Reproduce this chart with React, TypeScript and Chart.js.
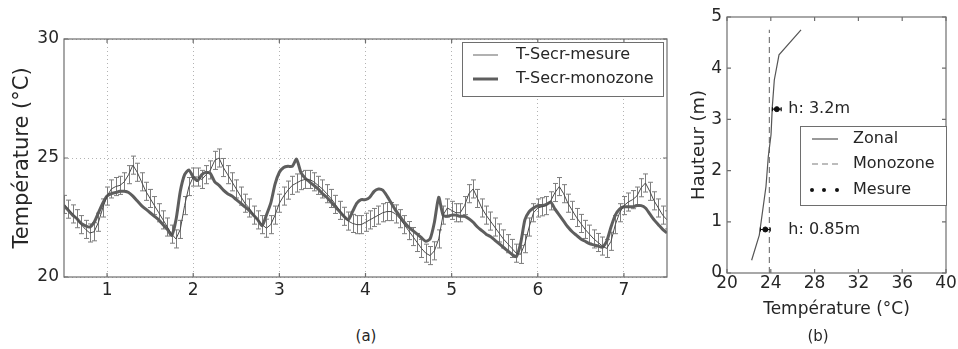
import React, { useEffect, useRef } from "react";
import { Chart, registerables } from "chart.js";
Chart.register(...registerables);

// ---------- Panel (a) data ----------
const T_START = 0.5;
const T_STEP = 0.05;
const MESURE = [
  23.05, 22.85, 22.65, 22.45, 22.2, 22.0, 21.85, 21.9, 22.3, 22.9,
  23.4, 23.7, 23.8, 23.85, 24.0, 24.3, 24.7, 24.4, 24.0, 23.6,
  23.3, 23.0, 22.7, 22.4, 22.1, 21.8, 21.6, 22.0, 23.0, 23.8,
  24.2, 24.2, 24.1, 24.3, 24.5, 24.9, 25.0, 24.6, 24.3, 24.0,
  23.7, 23.4, 23.1, 22.9, 22.6, 22.4, 22.2, 22.05, 22.2, 22.6,
  23.1, 23.4, 23.65, 23.85, 23.95, 24.05, 24.1, 24.1, 24.0, 23.85,
  23.7, 23.5, 23.3, 23.05, 22.8, 22.55, 22.35, 22.25, 22.2, 22.2,
  22.3, 22.4, 22.5, 22.6, 22.7, 22.75, 22.75, 22.65, 22.45, 22.2,
  21.95, 21.7, 21.45, 21.2, 21.0, 20.9, 21.1, 21.6, 22.6, 22.9,
  22.8, 22.7, 22.7, 23.0, 23.5, 23.7, 23.3, 22.9, 22.6, 22.35,
  22.1, 21.85, 21.6, 21.4, 21.2, 21.0, 20.95, 21.4, 22.1, 22.7,
  22.9, 22.95, 23.0, 23.2, 23.55, 23.8, 23.5, 23.1, 22.8, 22.5,
  22.25, 22.0, 21.8, 21.6, 21.45, 21.3, 21.2, 21.5, 22.2, 22.7,
  23.0, 23.15, 23.25, 23.4, 23.75, 23.95, 23.6, 23.2, 22.9, 22.6,
  22.4,
];
const MONOZONE = [
  23.0, 22.8, 22.6, 22.45, 22.25, 22.15, 22.1, 22.3, 22.7, 23.1,
  23.4, 23.5, 23.55, 23.6, 23.6, 23.55, 23.4, 23.2, 23.0, 22.85,
  22.7, 22.55, 22.4, 22.2, 22.0, 21.75, 22.4, 23.6, 24.3, 24.5,
  24.2, 24.05, 24.3, 24.4, 24.35, 24.0, 23.85, 23.65, 23.5, 23.4,
  23.25, 23.1, 22.95, 22.8, 22.6, 22.4, 22.15, 22.6, 23.1, 23.9,
  24.4, 24.6, 24.65, 24.65, 24.95, 24.4, 24.15, 24.0, 23.85, 23.7,
  23.5, 23.35, 23.15, 22.95, 22.75, 22.55, 22.4, 22.75, 23.1, 23.25,
  23.25, 23.35, 23.6, 23.7, 23.65, 23.4, 23.1, 22.8, 22.55, 22.3,
  22.1, 21.95, 21.8, 21.65, 21.5, 21.6, 22.3, 23.35, 22.6, 22.55,
  22.6, 22.6, 22.55, 22.55, 22.45, 22.3, 22.1, 21.95, 21.8, 21.7,
  21.55, 21.4, 21.25, 21.1, 20.95, 20.85, 21.4, 22.4, 22.75, 22.9,
  23.0, 23.0, 23.05, 23.15, 22.85, 22.6, 22.35, 22.1, 21.9, 21.75,
  21.6, 21.5, 21.4, 21.35, 21.3, 21.25, 21.5, 22.1, 22.6, 22.85,
  22.95, 22.95, 22.95, 23.0, 23.0, 22.9, 22.65, 22.4, 22.2, 22.0,
  21.85,
];
const MESURE_ERR = 0.38;
const X_MIN_A = 0.5;
const X_MAX_A = 7.5;
const X_TICKS_A = [1, 2, 3, 4, 5, 6, 7];
const Y_TICKS_A = [20, 25, 30];
const LEGEND_A = ["T-Secr-mesure", "T-Secr-monozone"];

// ---------- Panel (b) data ----------
const ZONAL_T = [22.25, 22.95, 23.56, 23.77, 24.02, 24.14, 24.32, 24.75, 26.76];
const ZONAL_H = [0.25, 0.74, 1.69, 2.27, 2.7, 3.25, 3.77, 4.26, 4.75];
const MONO_T = [23.87, 23.87];
const MONO_H = [0, 4.75];
const MES_T = [24.55, 23.5];
const MES_H = [3.2, 0.85];
const MES_ERR = [0.4, 0.45];
const MES_LABELS = ["h: 3.2m", "h: 0.85m"];
const MES_LABEL_T = 25.6;
const X_TICKS_B = [20, 24, 28, 32, 36, 40];
const Y_TICKS_B = [0, 1, 2, 3, 4, 5];
const LEGEND_B = ["Zonal", "Monozone", "Mesure"];

const FONT = "DejaVu Sans";
const TEXT = "#262626";
const SPINE = "#6e6e6e";
const GRID = "#b3b3b3";
const C_MES = "#4a4a4a";
const C_ERR = "#7d7d7d";
const C_MONO = "#5e5e5e";

function framePlugin(xt: number[], yt: number[]) {
  return {
    id: "frame",
    afterDatasetsDraw(chart: any) {
      const { ctx, chartArea: ca, scales } = chart;
      ctx.save();
      ctx.strokeStyle = SPINE;
      ctx.lineWidth = 1.2;
      ctx.strokeRect(ca.left, ca.top, ca.right - ca.left, ca.bottom - ca.top);
      ctx.beginPath();
      for (const v of xt) {
        const px = scales.x.getPixelForValue(v);
        ctx.moveTo(px, ca.bottom);
        ctx.lineTo(px, ca.bottom - 4);
        ctx.moveTo(px, ca.top);
        ctx.lineTo(px, ca.top + 4);
      }
      for (const v of yt) {
        const py = scales.y.getPixelForValue(v);
        ctx.moveTo(ca.left, py);
        ctx.lineTo(ca.left + 4, py);
        ctx.moveTo(ca.right, py);
        ctx.lineTo(ca.right - 4, py);
      }
      ctx.stroke();
      ctx.restore();
    },
  };
}

const errorBarsA = {
  id: "errA",
  beforeDatasetsDraw(chart: any) {
    const { ctx, scales, chartArea: ca } = chart;
    ctx.save();
    ctx.beginPath();
    ctx.rect(ca.left, ca.top, ca.right - ca.left, ca.bottom - ca.top);
    ctx.clip();
    ctx.strokeStyle = C_ERR;
    ctx.lineWidth = 1;
    ctx.beginPath();
    MESURE.forEach((v, i) => {
      const t = T_START + i * T_STEP;
      const px = Math.round(scales.x.getPixelForValue(t)) + 0.5;
      const y1 = scales.y.getPixelForValue(v + MESURE_ERR);
      const y2 = scales.y.getPixelForValue(v - MESURE_ERR);
      ctx.moveTo(px, y1);
      ctx.lineTo(px, y2);
      ctx.moveTo(px - 2.5, y1);
      ctx.lineTo(px + 2.5, y1);
      ctx.moveTo(px - 2.5, y2);
      ctx.lineTo(px + 2.5, y2);
    });
    ctx.stroke();
    ctx.restore();
  },
};

const legendA = {
  id: "legA",
  afterDraw(chart: any) {
    const { ctx, chartArea: ca } = chart;
    const w = 201, h = 54;
    const left = ca.right - 205, top = ca.top + 3;
    ctx.save();
    ctx.fillStyle = "#fff";
    ctx.fillRect(left, top, w, h);
    ctx.strokeStyle = SPINE;
    ctx.lineWidth = 1;
    ctx.strokeRect(left + 0.5, top + 0.5, w, h);
    const rows = [top + 13, top + 37];
    const colors = [C_ERR, C_MONO];
    const widths = [1.2, 3];
    ctx.font = `16px "${FONT}"`;
    ctx.textBaseline = "middle";
    ctx.textAlign = "left";
    LEGEND_A.forEach((lab, i) => {
      ctx.strokeStyle = colors[i];
      ctx.lineWidth = widths[i];
      ctx.beginPath();
      ctx.moveTo(left + 11, rows[i]);
      ctx.lineTo(left + 36, rows[i]);
      ctx.stroke();
      ctx.fillStyle = TEXT;
      ctx.fillText(lab, left + 54, rows[i]);
    });
    ctx.restore();
  },
};

const errorBarsB = {
  id: "errB",
  afterDatasetsDraw(chart: any) {
    const { ctx, scales } = chart;
    ctx.save();
    ctx.strokeStyle = "#111";
    ctx.lineWidth = 1.2;
    ctx.beginPath();
    MES_T.forEach((t, i) => {
      const py = scales.y.getPixelForValue(MES_H[i]);
      const x1 = scales.x.getPixelForValue(t - MES_ERR[i]);
      const x2 = scales.x.getPixelForValue(t + MES_ERR[i]);
      ctx.moveTo(x1, py);
      ctx.lineTo(x2, py);
      ctx.moveTo(x1, py - 2);
      ctx.lineTo(x1, py + 2);
      ctx.moveTo(x2, py - 2);
      ctx.lineTo(x2, py + 2);
    });
    ctx.stroke();
    ctx.fillStyle = TEXT;
    ctx.font = `16px "${FONT}"`;
    ctx.textBaseline = "middle";
    ctx.textAlign = "left";
    MES_LABELS.forEach((lab, i) => {
      ctx.fillText(lab, scales.x.getPixelForValue(MES_LABEL_T), scales.y.getPixelForValue(MES_H[i]));
    });
    ctx.restore();
  },
};

const legendB = {
  id: "legB",
  afterDraw(chart: any) {
    const { ctx, chartArea: ca } = chart;
    const w = 146, h = 79;
    const left = ca.right - 146, top = ca.top + 109;
    ctx.save();
    ctx.fillStyle = "#fff";
    ctx.fillRect(left, top, w, h);
    ctx.strokeStyle = SPINE;
    ctx.lineWidth = 1;
    ctx.strokeRect(left + 0.5, top + 0.5, w, h);
    const rows = [top + 13, top + 38, top + 64];
    ctx.font = `16px "${FONT}"`;
    ctx.textBaseline = "middle";
    ctx.textAlign = "left";
    ctx.strokeStyle = "#555";
    ctx.lineWidth = 1.2;
    ctx.beginPath();
    ctx.moveTo(left + 12, rows[0]);
    ctx.lineTo(left + 38, rows[0]);
    ctx.stroke();
    ctx.strokeStyle = "#7a7a7a";
    ctx.setLineDash([6, 4]);
    ctx.beginPath();
    ctx.moveTo(left + 12, rows[1]);
    ctx.lineTo(left + 38, rows[1]);
    ctx.stroke();
    ctx.setLineDash([]);
    ctx.fillStyle = "#111";
    [12, 24, 37].forEach((dx) => {
      ctx.beginPath();
      ctx.arc(left + dx, rows[2], 2, 0, Math.PI * 2);
      ctx.fill();
    });
    ctx.fillStyle = TEXT;
    LEGEND_B.forEach((lab, i) => ctx.fillText(lab, left + 53, rows[i]));
    ctx.restore();
  },
};

export default function App() {
  const refA = useRef<HTMLCanvasElement>(null);
  const refB = useRef<HTMLCanvasElement>(null);

  useEffect(() => {
    const chartA = new Chart(refA.current as HTMLCanvasElement, {
      type: "line",
      data: {
        datasets: [
          {
            label: LEGEND_A[0],
            data: MESURE.map((v, i) => ({ x: T_START + i * T_STEP, y: v })),
            borderColor: C_MES,
            borderWidth: 1,
            pointRadius: 0,
            tension: 0,
          },
          {
            label: LEGEND_A[1],
            data: MONOZONE.map((v, i) => ({ x: T_START + i * T_STEP, y: v })),
            borderColor: C_MONO,
            borderWidth: 3,
            pointRadius: 0,
            tension: 0.2,
            borderJoinStyle: "round",
          },
        ],
      },
      options: {
        responsive: false,
        animation: false,
        devicePixelRatio: 1,
        layout: { padding: { top: 39, right: 13, left: 0, bottom: 0 } },
        plugins: { legend: { display: false }, tooltip: { enabled: false } },
        scales: {
          x: {
            type: "linear",
            min: X_MIN_A,
            max: X_MAX_A,
            afterBuildTicks: (s: any) => {
              s.ticks = X_TICKS_A.map((v) => ({ value: v }));
            },
            afterFit: (s: any) => {
              s.height = 33;
            },
            ticks: { font: { family: FONT, size: 17 }, color: TEXT, padding: 3, maxRotation: 0, autoSkip: false },
            grid: { drawTicks: false, color: GRID, lineWidth: 1 },
            border: { display: false, dash: [1, 3] },
          },
          y: {
            min: 20,
            max: 30,
            afterBuildTicks: (s: any) => {
              s.ticks = Y_TICKS_A.map((v) => ({ value: v }));
            },
            afterFit: (s: any) => {
              s.width = 64;
            },
            ticks: { font: { family: FONT, size: 17 }, color: TEXT, padding: 5 },
            title: {
              display: true,
              text: "Température (°C)",
              font: { family: FONT, size: 21 },
              color: TEXT,
              padding: { top: 10, bottom: 0 },
            },
            grid: { drawTicks: false, color: GRID, lineWidth: 1 },
            border: { display: false, dash: [1, 3] },
          },
        },
      },
      plugins: [errorBarsA, framePlugin(X_TICKS_A, Y_TICKS_A), legendA],
    } as any);

    const chartB = new Chart(refB.current as HTMLCanvasElement, {
      type: "scatter",
      data: {
        datasets: [
          {
            label: LEGEND_B[0],
            data: ZONAL_T.map((t, i) => ({ x: t, y: ZONAL_H[i] })),
            showLine: true,
            borderColor: "#555",
            borderWidth: 1.2,
            pointRadius: 0,
          },
          {
            label: LEGEND_B[1],
            data: MONO_T.map((t, i) => ({ x: t, y: MONO_H[i] })),
            showLine: true,
            borderColor: "#7a7a7a",
            borderWidth: 1.2,
            borderDash: [6, 4],
            pointRadius: 0,
          },
          {
            label: LEGEND_B[2],
            data: MES_T.map((t, i) => ({ x: t, y: MES_H[i] })),
            showLine: false,
            backgroundColor: "#111",
            borderColor: "#111",
            pointRadius: 2.5,
          },
        ],
      },
      options: {
        responsive: false,
        animation: false,
        devicePixelRatio: 1,
        layout: { padding: { top: 17, right: 12, left: 0, bottom: 0 } },
        plugins: { legend: { display: false }, tooltip: { enabled: false } },
        scales: {
          x: {
            type: "linear",
            min: 20,
            max: 40,
            afterBuildTicks: (s: any) => {
              s.ticks = X_TICKS_B.map((v) => ({ value: v }));
            },
            afterFit: (s: any) => {
              s.height = 57;
            },
            ticks: { font: { family: FONT, size: 17 }, color: TEXT, padding: 0, maxRotation: 0, autoSkip: false },
            title: {
              display: true,
              text: "Température (°C)",
              font: { family: FONT, size: 17 },
              color: TEXT,
              padding: { top: 0, bottom: 10 },
            },
            grid: { display: false, drawTicks: false },
            border: { display: false },
          },
          y: {
            min: 0,
            max: 5,
            afterBuildTicks: (s: any) => {
              s.ticks = Y_TICKS_B.map((v) => ({ value: v }));
            },
            afterFit: (s: any) => {
              s.width = 47;
            },
            ticks: { font: { family: FONT, size: 17 }, color: TEXT, padding: 5 },
            title: {
              display: true,
              text: "Hauteur (m)",
              font: { family: FONT, size: 18 },
              color: TEXT,
              padding: { top: 9, bottom: 0 },
            },
            grid: { display: false, drawTicks: false },
            border: { display: false },
          },
        },
      },
      plugins: [framePlugin(X_TICKS_B, Y_TICKS_B), errorBarsB, legendB],
    } as any);

    return () => {
      chartA.destroy();
      chartB.destroy();
    };
  }, []);

  const caption: React.CSSProperties = {
    position: "absolute",
    top: 336,
    transform: "translate(-50%, -50%)",
    fontFamily: FONT,
    fontSize: 15,
    color: TEXT,
    whiteSpace: "nowrap",
  };

  return (
    <div style={{ position: "absolute", left: 0, top: 0, width: 958, height: 349, background: "#fff", overflow: "hidden" }}>
      <div style={{ position: "absolute", left: 0, top: 0, width: 680, height: 310 }}>
        <canvas ref={refA} width={680} height={310} style={{ display: "block", width: 680, height: 310 }} />
      </div>
      <div style={{ position: "absolute", left: 680, top: 0, width: 278, height: 330 }}>
        <canvas ref={refB} width={278} height={330} style={{ display: "block", width: 278, height: 330 }} />
      </div>
      <div style={{ ...caption, left: 366 }}>(a)</div>
      <div style={{ ...caption, left: 818 }}>(b)</div>
    </div>
  );
}
